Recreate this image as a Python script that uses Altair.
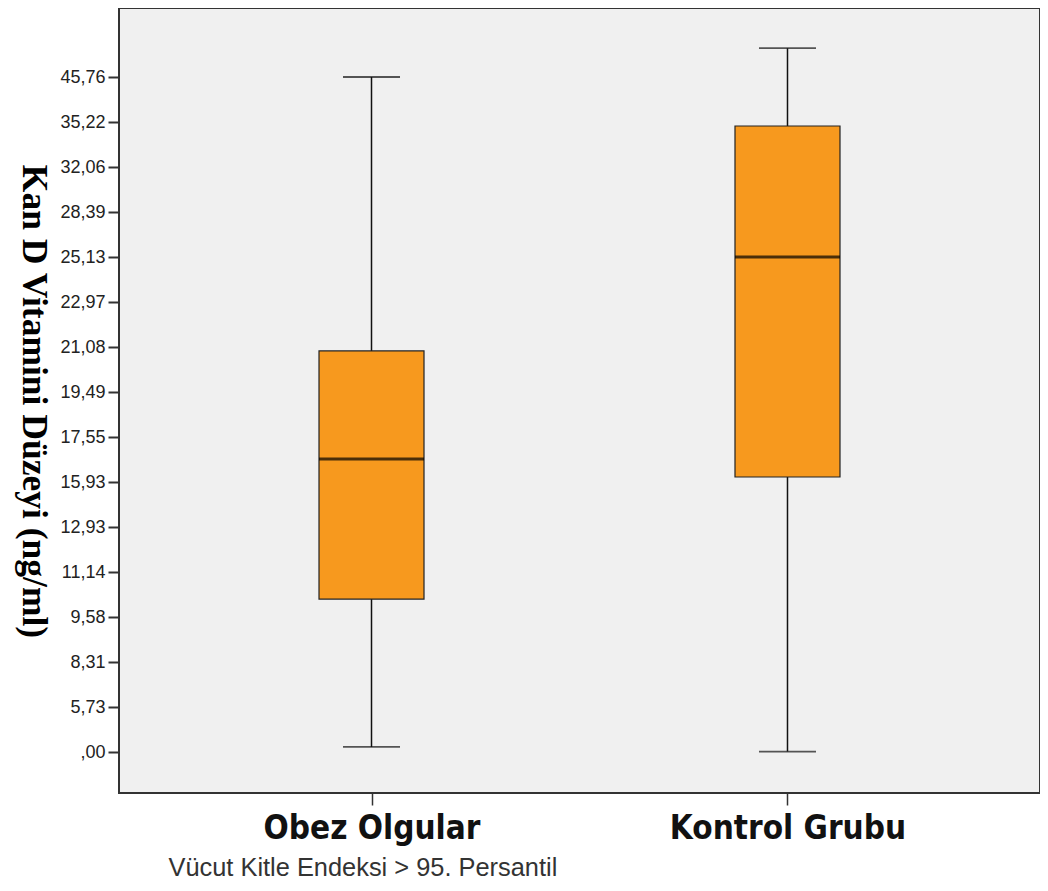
import altair as alt
import pandas as pd

# Axis tick values (non-linear SPSS-like axis, equally spaced)
tick_values = [0.00, 5.73, 8.31, 9.58, 11.14, 12.93, 15.93, 17.55, 19.49,
               21.08, 22.97, 25.13, 28.39, 32.06, 35.22, 45.76]

groups = ["Obez Olgular", "Kontrol Grubu"]
w_min = [0.64, 0.05]
q1 = [10.20, 16.11]
median = [16.76, 25.13]
q3 = [20.94, 34.94]
w_max = [45.76, 52.5]

df = pd.DataFrame({"grup": groups, "lo": w_min, "q1": q1, "med": median,
                   "q3": q3, "hi": w_max})

W, H = 921, 785
step_px = 45.0
zero_px = 744.0
y_range = [zero_px - step_px * i for i in range(len(tick_values))]

yscale = alt.Scale(domain=tick_values, range=y_range, nice=False, zero=False)
xscale = alt.Scale(type="point", domain=groups, padding=0.607)

label_expr = "datum.value == 0 ? ',00' : replace(format(datum.value, '.2f'), '.', ',')"

x_enc = alt.X("grup:N", scale=xscale, sort=groups,
              axis=alt.Axis(title="Vücut Kitle Endeksi > 95. Persantil",
                            labelAngle=0, labelFont="DejaVu Sans Condensed",
                            labelFontWeight="bold", labelFontSize=33, labelColor="#111",
                            labelLimit=0,
                            labelPadding=7, tickSize=12, tickWidth=1.5, tickColor="#333",
                            domain=False, titleFont="Liberation Sans", titleFontSize=25.4,
                            titleFontWeight="normal", titleColor="#333",
                            titleAnchor="start", titleAlign="left", titleX=49,
                            titleY=62, titleBaseline="top"))

base = alt.Chart(df)

whisk_lo = base.mark_rule(color="#111", strokeWidth=1.5).encode(
    x=x_enc,
    y=alt.Y("lo:Q", scale=yscale,
            axis=alt.Axis(values=tick_values, labelExpr=label_expr,
                          title="Kan D Vitamini Düzeyi (ng/ml)",
                          titleFont="Liberation Serif", titleFontSize=35.5,
                          titleFontWeight="bold", titleColor="#000",
                          titleAngle=90, titleBaseline="top", titleAlign="center",
                          titleX=-69, titleY=393,
                          labelFont="Liberation Sans", labelFontSize=18,
                          labelColor="#222", tickSize=11, tickWidth=2,
                          tickColor="#333", domain=False, grid=False, labelPadding=3)),
    y2="q1:Q")
whisk_hi = base.mark_rule(color="#111", strokeWidth=1.5).encode(
    x=alt.X("grup:N", scale=xscale, sort=groups), y=alt.Y("q3:Q", scale=yscale), y2="hi:Q")

box = base.mark_bar(size=105, color="#F7991E", stroke="#222", strokeWidth=1.2).encode(
    x=alt.X("grup:N", scale=xscale, sort=groups), y=alt.Y("q1:Q", scale=yscale), y2="q3:Q")

med = base.mark_tick(size=105, thickness=3, color="#000", orient="horizontal").encode(
    x=alt.X("grup:N", scale=xscale, sort=groups), y=alt.Y("med:Q", scale=yscale))

cap_lo = base.mark_tick(size=57, thickness=1.8, color="#111", orient="horizontal").encode(
    x=alt.X("grup:N", scale=xscale, sort=groups), y=alt.Y("lo:Q", scale=yscale))
cap_hi = base.mark_tick(size=57, thickness=1.8, color="#111", orient="horizontal").encode(
    x=alt.X("grup:N", scale=xscale, sort=groups), y=alt.Y("hi:Q", scale=yscale))

chart = alt.layer(whisk_lo, whisk_hi, box, med, cap_lo, cap_hi).properties(
    width=W, height=H,
    autosize=alt.AutoSizeParams(type="none"),
    padding={"left": 111, "top": 0, "right": 0, "bottom": 95},
    background="white",
).configure_view(fill="#F0F0F0", stroke="#333", strokeWidth=2)

chart.save("out.html", embed_options={"renderer": "svg", "actions": False})
